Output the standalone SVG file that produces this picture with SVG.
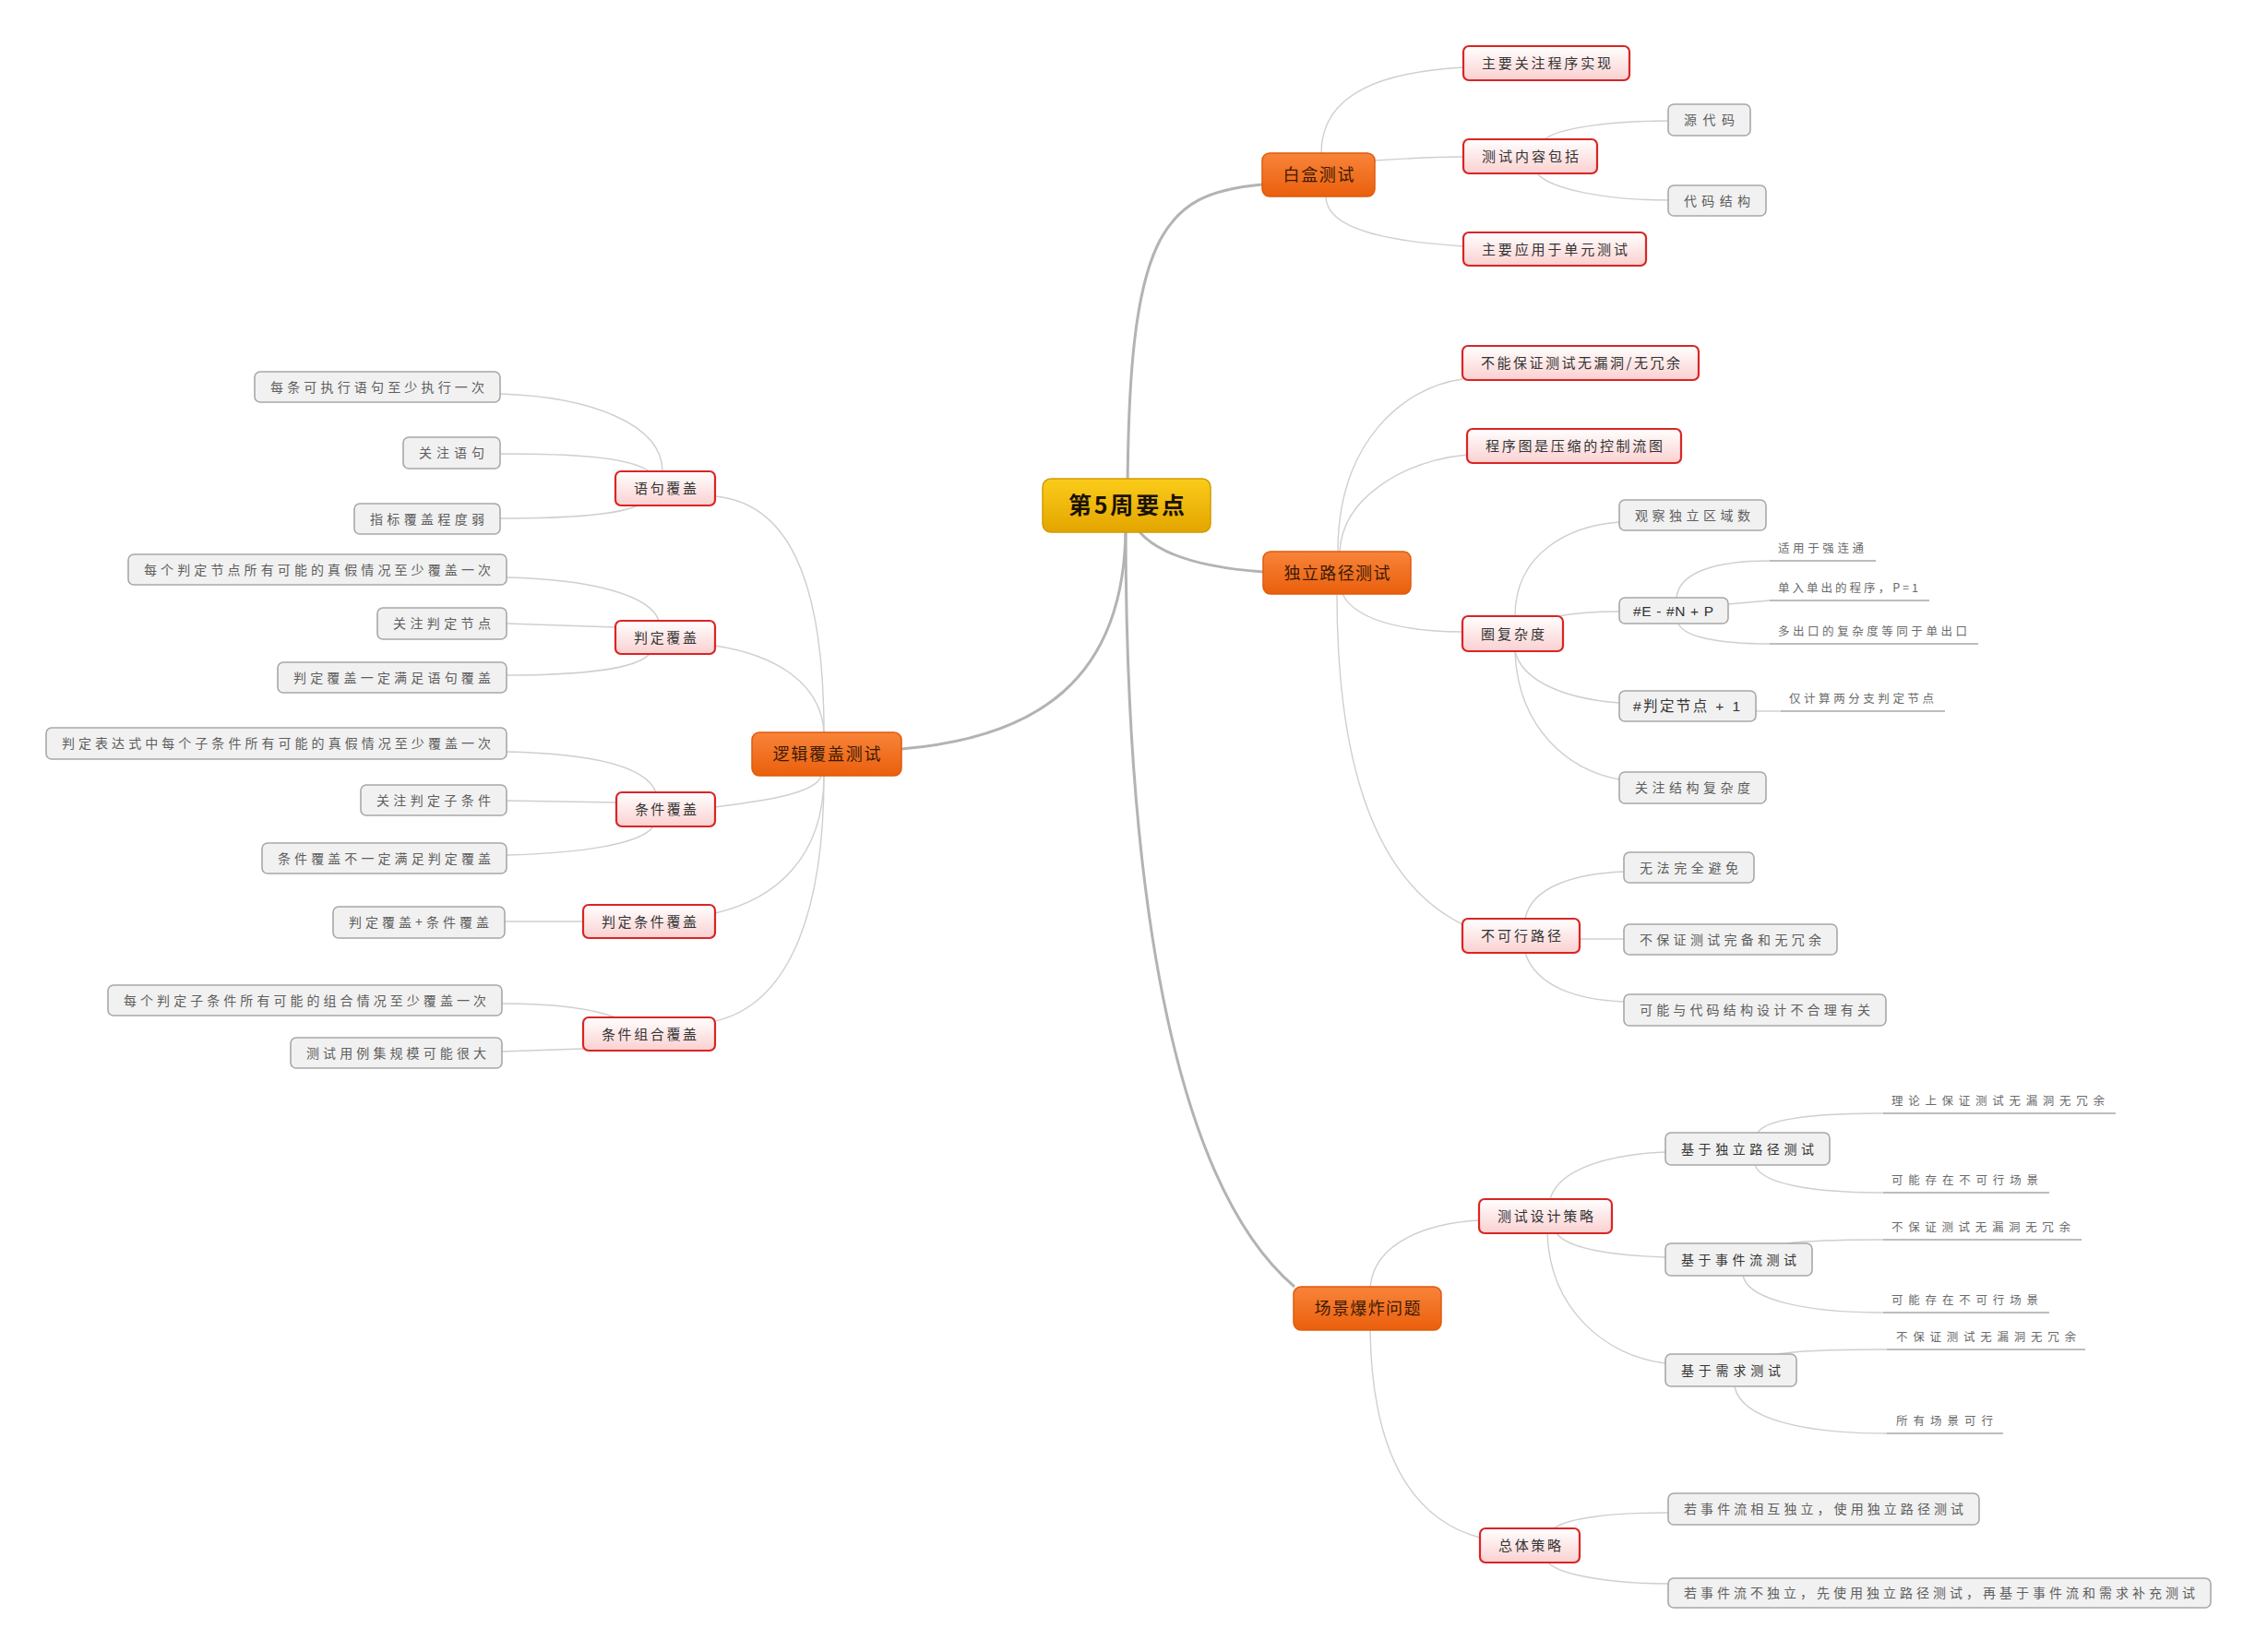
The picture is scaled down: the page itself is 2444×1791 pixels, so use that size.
<svg xmlns="http://www.w3.org/2000/svg" width="2444" height="1791" viewBox="0 0 2444 1791">
<defs>
<linearGradient id="gGold" x1="0" y1="0" x2="0" y2="1"><stop offset="0" stop-color="#fbcc1a"/><stop offset="1" stop-color="#e3a500"/></linearGradient>
<linearGradient id="gOrange" x1="0" y1="0" x2="0" y2="1"><stop offset="0" stop-color="#f8843a"/><stop offset="1" stop-color="#ea5f0c"/></linearGradient>
<linearGradient id="gRed" x1="0" y1="0" x2="0" y2="1"><stop offset="0" stop-color="#ffffff"/><stop offset="1" stop-color="#fbd0d0"/></linearGradient>
<style>
.bg{fill:#ffffff}
.main-link{fill:none;stroke:#b3b3b3;stroke-width:3}
.link{fill:none;stroke:#cfcfcf;stroke-width:1.4}
.uline{fill:none;stroke:#bdbdbd;stroke-width:1.8}
.center rect{fill:url(#gGold);stroke:#d19b00;stroke-width:1.5}
.main rect{fill:url(#gOrange);stroke:#e05a0c;stroke-width:1.5}
.sub rect{fill:url(#gRed);stroke:#d92525;stroke-width:2.2}
.leaf rect{fill:#f1f1f1;stroke:#a8a8a8;stroke-width:1.6}
text{font-family:"Noto Sans CJK SC","Noto Sans",sans-serif}
.center text{font-size:25px;font-weight:bold;fill:#1a1200}
.main text{font-size:18px;fill:#3b1a05}
.sub text{font-size:15px;fill:#333333}
.leaf text{font-size:14px;fill:#5e5e5e}
.leaf.dark text{fill:#333333}
.leaf.formula text{font-size:15.5px;font-family:"Liberation Sans","Noto Sans CJK SC",sans-serif}
.float text{font-size:12.5px;fill:#6a6a6a}
</style>
</defs>
<rect class="bg" x="0" y="0" width="2444" height="1791"/>

<g id="connectors">
  <path class="main-link" d="M1222 548 C1222 250 1260 210 1368 200"/>
  <path class="main-link" d="M1225 560 C1240 600 1300 615 1369 620"/>
  <path class="main-link" d="M1220 570 C1220 740 1120 800 977 812"/>
  <path class="main-link" d="M1220 570 C1220 1000 1280 1290 1403 1395"/>
  <path class="link" d="M1432 166 C1432 100 1500 78 1586 73"/>
  <path class="link" d="M1490 174 C1520 172 1550 170 1586 170"/>
  <path class="link" d="M1437 213 C1437 250 1510 262 1586 267"/>
  <path class="link" d="M1674 151 C1690 138 1750 131 1808 131"/>
  <path class="link" d="M1666 188 C1680 205 1740 217 1808 217"/>
  <path class="link" d="M1450 598 C1450 480 1520 420 1585 411"/>
  <path class="link" d="M1452 598 C1455 540 1520 500 1590 493"/>
  <path class="link" d="M1455 644 C1470 675 1530 685 1585 685"/>
  <path class="link" d="M1449 644 C1449 850 1500 960 1585 1002"/>
  <path class="link" d="M1642 668 C1642 600 1700 570 1755 566"/>
  <path class="link" d="M1690 668 C1710 664 1730 663 1755 663"/>
  <path class="link" d="M1642 706 C1650 740 1700 758 1755 762"/>
  <path class="link" d="M1642 706 C1645 790 1700 835 1755 845"/>
  <path class="link" d="M1817 648 C1820 620 1860 608 1918 608"/>
  <path class="link" d="M1873 655 L1918 651"/>
  <path class="link" d="M1819 676 C1825 690 1860 698 1918 698"/>
  <path class="link" d="M1903 771 L1930 771"/>
  <path class="link" d="M1653 996 C1660 960 1710 947 1760 945"/>
  <path class="link" d="M1712 1018 L1760 1018"/>
  <path class="link" d="M1653 1033 C1665 1070 1710 1084 1760 1086"/>
  <path class="link" d="M1485 1395 C1490 1345 1550 1326 1603 1323"/>
  <path class="link" d="M1485 1442 C1487 1590 1540 1650 1604 1667"/>
  <path class="link" d="M1680 1300 C1690 1265 1750 1251 1805 1249"/>
  <path class="link" d="M1687 1337 C1700 1355 1750 1361 1805 1363"/>
  <path class="link" d="M1677 1337 C1680 1420 1740 1470 1805 1478"/>
  <path class="link" d="M1905 1228 C1915 1212 1970 1207 2041 1207"/>
  <path class="link" d="M1902 1263 C1910 1285 1970 1293 2041 1293"/>
  <path class="link" d="M1937 1348 C1960 1345 2000 1344 2041 1344"/>
  <path class="link" d="M1889 1383 C1895 1410 1960 1423 2041 1423"/>
  <path class="link" d="M1927 1468 C1950 1464 2000 1463 2045 1463"/>
  <path class="link" d="M1880 1503 C1887 1540 1960 1554 2045 1554"/>
  <path class="link" d="M1684 1657 C1700 1645 1750 1640 1808 1640"/>
  <path class="link" d="M1678 1694 C1690 1708 1750 1717 1808 1717"/>
  <path class="link" d="M775 538 C850 545 893 620 893 794"/>
  <path class="link" d="M775 700 C840 710 890 740 893 794"/>
  <path class="link" d="M775 875 C830 868 885 860 890 841"/>
  <path class="link" d="M775 990 C840 975 893 930 893 841"/>
  <path class="link" d="M775 1107 C850 1090 893 1000 893 841"/>
  <path class="link" d="M718 511 C718 460 640 430 542 427"/>
  <path class="link" d="M704 511 C680 495 620 492 542 492"/>
  <path class="link" d="M691 548 C670 558 620 562 542 562"/>
  <path class="link" d="M714 673 C705 645 640 628 549 626"/>
  <path class="link" d="M667 680 L549 676"/>
  <path class="link" d="M704 709 C690 725 630 732 549 732"/>
  <path class="link" d="M711 859 C700 830 640 817 549 815"/>
  <path class="link" d="M668 870 L549 868"/>
  <path class="link" d="M708 896 C695 915 630 925 549 927"/>
  <path class="link" d="M632 999 L547 999"/>
  <path class="link" d="M667 1103 C640 1093 600 1088 544 1088"/>
  <path class="link" d="M632 1137 L544 1140"/>
</g>

<g id="n-center" class="center"><rect x="1130" y="519" width="182" height="58" rx="9"/><text x="1158" y="557" textLength="126" lengthAdjust="spacing">第5周要点</text></g>

<g id="n-baihe" class="main"><rect x="1368" y="166" width="122" height="47" rx="8"/><text x="1390.5" y="196" textLength="77" lengthAdjust="spacing">白盒测试</text></g>
<g id="n-duli" class="main"><rect x="1369" y="598" width="160" height="46" rx="8"/><text x="1391.5" y="628" textLength="115" lengthAdjust="spacing">独立路径测试</text></g>
<g id="n-luoji" class="main"><rect x="815" y="794" width="162" height="47" rx="8"/><text x="837.5" y="824" textLength="117" lengthAdjust="spacing">逻辑覆盖测试</text></g>
<g id="n-changjing" class="main"><rect x="1402" y="1395" width="160" height="47" rx="8"/><text x="1424.5" y="1425" textLength="115" lengthAdjust="spacing">场景爆炸问题</text></g>

<g id="n-zygz" class="sub"><rect x="1586" y="50" width="180" height="37" rx="6"/><text x="1606" y="74" textLength="140" lengthAdjust="spacing">主要关注程序实现</text></g>
<g id="n-csnr" class="sub"><rect x="1586" y="151" width="145" height="37" rx="6"/><text x="1606" y="175" textLength="105" lengthAdjust="spacing">测试内容包括</text></g>
<g id="n-zyyy" class="sub"><rect x="1586" y="252" width="198" height="36" rx="6"/><text x="1606" y="275.5" textLength="158" lengthAdjust="spacing">主要应用于单元测试</text></g>
<g id="n-bnbz" class="sub"><rect x="1585" y="375" width="256" height="37" rx="6"/><text x="1605" y="399" textLength="216" lengthAdjust="spacing">不能保证测试无漏洞/无冗余</text></g>
<g id="n-cxt" class="sub"><rect x="1590" y="465" width="232" height="37" rx="6"/><text x="1610" y="489" textLength="192" lengthAdjust="spacing">程序图是压缩的控制流图</text></g>
<g id="n-qfzd" class="sub"><rect x="1585" y="668" width="109" height="38" rx="6"/><text x="1605" y="692.5" textLength="69" lengthAdjust="spacing">圈复杂度</text></g>
<g id="n-bkxlj" class="sub"><rect x="1585" y="996" width="127" height="37" rx="6"/><text x="1605" y="1020" textLength="87" lengthAdjust="spacing">不可行路径</text></g>
<g id="n-cssj" class="sub"><rect x="1603" y="1300" width="144" height="37" rx="6"/><text x="1623" y="1324" textLength="104" lengthAdjust="spacing">测试设计策略</text></g>
<g id="n-ztcl" class="sub"><rect x="1604" y="1657" width="108" height="37" rx="6"/><text x="1624" y="1681" textLength="68" lengthAdjust="spacing">总体策略</text></g>
<g id="n-yjfg" class="sub"><rect x="667" y="511" width="108" height="37" rx="6"/><text x="687" y="535" textLength="68" lengthAdjust="spacing">语句覆盖</text></g>
<g id="n-pdfg" class="sub"><rect x="667" y="673" width="108" height="36" rx="6"/><text x="687" y="696.5" textLength="68" lengthAdjust="spacing">判定覆盖</text></g>
<g id="n-tjfg" class="sub"><rect x="668" y="859" width="107" height="37" rx="6"/><text x="688" y="883" textLength="67" lengthAdjust="spacing">条件覆盖</text></g>
<g id="n-pdtjfg" class="sub"><rect x="632" y="981" width="143" height="36" rx="6"/><text x="652" y="1004.5" textLength="103" lengthAdjust="spacing">判定条件覆盖</text></g>
<g id="n-tjzhfg" class="sub"><rect x="632" y="1103" width="143" height="36" rx="6"/><text x="652" y="1126.5" textLength="103" lengthAdjust="spacing">条件组合覆盖</text></g>

<g id="n-ydm" class="leaf"><rect x="1808" y="113" width="89" height="34" rx="6"/><text x="1825" y="135" textLength="55" lengthAdjust="spacing">源代码</text></g>
<g id="n-dmjg" class="leaf"><rect x="1808" y="201" width="106" height="33" rx="6"/><text x="1825" y="222.5" textLength="72" lengthAdjust="spacing">代码结构</text></g>
<g id="n-gcdl" class="leaf"><rect x="1755" y="542" width="159" height="33" rx="6"/><text x="1772" y="563.5" textLength="125" lengthAdjust="spacing">观察独立区域数</text></g>
<g id="n-formula" class="leaf dark formula"><rect x="1755" y="648" width="118" height="28" rx="6"/><text x="1770" y="667.5" textLength="87" lengthAdjust="spacing">#E - #N + P</text></g>
<g id="n-pdjd" class="leaf dark formula"><rect x="1755" y="749" width="148" height="33" rx="6"/><text x="1770" y="771" textLength="116" lengthAdjust="spacing">#判定节点  + 1</text></g>
<g id="n-gzjg" class="leaf"><rect x="1755" y="837" width="159" height="34" rx="6"/><text x="1772" y="859" textLength="125" lengthAdjust="spacing">关注结构复杂度</text></g>
<g id="n-wfwq" class="leaf"><rect x="1760" y="924" width="141" height="33" rx="6"/><text x="1777" y="945.5" textLength="107" lengthAdjust="spacing">无法完全避免</text></g>
<g id="n-bbzwb" class="leaf"><rect x="1760" y="1002" width="231" height="33" rx="6"/><text x="1777" y="1023.5" textLength="197" lengthAdjust="spacing">不保证测试完备和无冗余</text></g>
<g id="n-knydm" class="leaf"><rect x="1760" y="1078" width="284" height="34" rx="6"/><text x="1777" y="1100" textLength="250" lengthAdjust="spacing">可能与代码结构设计不合理有关</text></g>
<g id="n-jydl" class="leaf dark"><rect x="1805" y="1228" width="178" height="35" rx="6"/><text x="1822" y="1250.5" textLength="144" lengthAdjust="spacing">基于独立路径测试</text></g>
<g id="n-jysj" class="leaf dark"><rect x="1805" y="1348" width="159" height="35" rx="6"/><text x="1822" y="1370.5" textLength="125" lengthAdjust="spacing">基于事件流测试</text></g>
<g id="n-jyxq" class="leaf dark"><rect x="1805" y="1468" width="142" height="35" rx="6"/><text x="1822" y="1490.5" textLength="108" lengthAdjust="spacing">基于需求测试</text></g>
<g id="n-rsjlxh" class="leaf"><rect x="1808" y="1619" width="337" height="34" rx="6"/><text x="1825" y="1641" textLength="303" lengthAdjust="spacing">若事件流相互独立，使用独立路径测试</text></g>
<g id="n-rsjlbd" class="leaf"><rect x="1808" y="1711" width="588" height="32" rx="6"/><text x="1825" y="1732" textLength="554" lengthAdjust="spacing">若事件流不独立，先使用独立路径测试，再基于事件流和需求补充测试</text></g>
<g id="n-mtkzx" class="leaf"><rect x="276" y="403" width="266" height="33" rx="6"/><text x="293" y="424.5" textLength="232" lengthAdjust="spacing">每条可执行语句至少执行一次</text></g>
<g id="n-gzyj" class="leaf"><rect x="437" y="474" width="105" height="34" rx="6"/><text x="454" y="496" textLength="71" lengthAdjust="spacing">关注语句</text></g>
<g id="n-zbfg" class="leaf"><rect x="384" y="546" width="158" height="33" rx="6"/><text x="401" y="567.5" textLength="124" lengthAdjust="spacing">指标覆盖程度弱</text></g>
<g id="n-mgpdjd" class="leaf"><rect x="139" y="601" width="410" height="33" rx="6"/><text x="156" y="622.5" textLength="376" lengthAdjust="spacing">每个判定节点所有可能的真假情况至少覆盖一次</text></g>
<g id="n-gzpdjd" class="leaf"><rect x="409" y="659" width="140" height="34" rx="6"/><text x="426" y="681" textLength="106" lengthAdjust="spacing">关注判定节点</text></g>
<g id="n-pdfgyd" class="leaf"><rect x="301" y="718" width="248" height="33" rx="6"/><text x="318" y="739.5" textLength="214" lengthAdjust="spacing">判定覆盖一定满足语句覆盖</text></g>
<g id="n-pdbds" class="leaf"><rect x="50" y="789" width="499" height="34" rx="6"/><text x="67" y="811" textLength="465" lengthAdjust="spacing">判定表达式中每个子条件所有可能的真假情况至少覆盖一次</text></g>
<g id="n-gzpdztj" class="leaf"><rect x="391" y="851" width="158" height="33" rx="6"/><text x="408" y="872.5" textLength="124" lengthAdjust="spacing">关注判定子条件</text></g>
<g id="n-tjfgbyd" class="leaf"><rect x="284" y="914" width="265" height="33" rx="6"/><text x="301" y="935.5" textLength="231" lengthAdjust="spacing">条件覆盖不一定满足判定覆盖</text></g>
<g id="n-pdjtj" class="leaf"><rect x="361" y="983" width="186" height="34" rx="6"/><text x="378" y="1005" textLength="152" lengthAdjust="spacing">判定覆盖+条件覆盖</text></g>
<g id="n-mgzhqk" class="leaf"><rect x="117" y="1068" width="427" height="33" rx="6"/><text x="134" y="1089.5" textLength="393" lengthAdjust="spacing">每个判定子条件所有可能的组合情况至少覆盖一次</text></g>
<g id="n-csyl" class="leaf"><rect x="315" y="1125" width="229" height="33" rx="6"/><text x="332" y="1146.5" textLength="195" lengthAdjust="spacing">测试用例集规模可能很大</text></g>

<g id="f-qlt" class="float"><line class="uline" x1="1918" y1="608" x2="2033" y2="608"/><text x="1927" y="599" textLength="93" lengthAdjust="spacing">适用于强连通</text></g>
<g id="f-drdc" class="float"><line class="uline" x1="1918" y1="651" x2="2091" y2="651"/><text x="1927" y="642" textLength="152" lengthAdjust="spacing">单入单出的程序，P=1</text></g>
<g id="f-dck" class="float"><line class="uline" x1="1918" y1="698" x2="2144" y2="698"/><text x="1927" y="689" textLength="205" lengthAdjust="spacing">多出口的复杂度等同于单出口</text></g>
<g id="f-jjs" class="float"><line class="uline" x1="1930" y1="771" x2="2108" y2="771"/><text x="1939" y="762" textLength="157" lengthAdjust="spacing">仅计算两分支判定节点</text></g>
<g id="f-llsbz" class="float"><line class="uline" x1="2041" y1="1207" x2="2293" y2="1207"/><text x="2050" y="1198" textLength="231" lengthAdjust="spacing">理论上保证测试无漏洞无冗余</text></g>
<g id="f-knbkx1" class="float"><line class="uline" x1="2041" y1="1293" x2="2221" y2="1293"/><text x="2050" y="1284" textLength="159" lengthAdjust="spacing">可能存在不可行场景</text></g>
<g id="f-bbz1" class="float"><line class="uline" x1="2041" y1="1344" x2="2256" y2="1344"/><text x="2050" y="1335" textLength="194" lengthAdjust="spacing">不保证测试无漏洞无冗余</text></g>
<g id="f-knbkx2" class="float"><line class="uline" x1="2041" y1="1423" x2="2221" y2="1423"/><text x="2050" y="1414" textLength="159" lengthAdjust="spacing">可能存在不可行场景</text></g>
<g id="f-bbz2" class="float"><line class="uline" x1="2045" y1="1463" x2="2260" y2="1463"/><text x="2055" y="1454" textLength="195" lengthAdjust="spacing">不保证测试无漏洞无冗余</text></g>
<g id="f-sycj" class="float"><line class="uline" x1="2045" y1="1554" x2="2171" y2="1554"/><text x="2055" y="1545" textLength="105" lengthAdjust="spacing">所有场景可行</text></g>
</svg>
